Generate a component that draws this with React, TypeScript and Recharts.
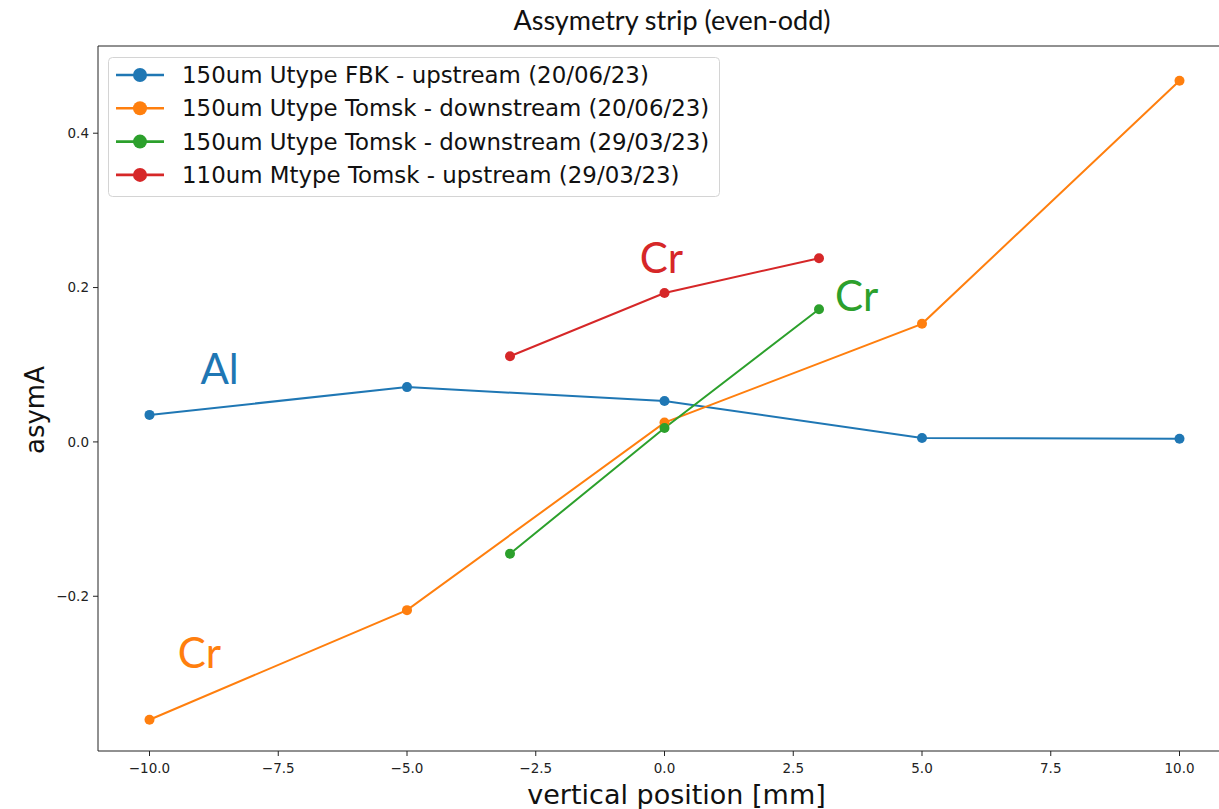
import { Label, Legend, Line, LineChart, ReferenceDot, ReferenceLine, XAxis, YAxis } from "recharts"

const fbkX = [-10, -5, 0, 5, 10]
const fbkY = [0.035, 0.071, 0.053, 0.005, 0.004]
const tomskJunX = [-10, -5, 0, 5, 10]
const tomskJunY = [-0.36, -0.218, 0.025, 0.153, 0.468]
const tomskMarX = [-3, 0, 3]
const tomskMarY = [-0.145, 0.018, 0.172]
const mtypeX = [-3, 0, 3]
const mtypeY = [0.111, 0.193, 0.238]

const seriesNames = [
  "150um Utype FBK - upstream (20/06/23)",
  "150um Utype Tomsk - downstream (20/06/23)",
  "150um Utype Tomsk - downstream (29/03/23)",
  "110um Mtype Tomsk - upstream (29/03/23)",
]
const colors = ["#1f77b4", "#ff7f0e", "#2ca02c", "#d62728"]

const xTicks = [-10, -7.5, -5, -2.5, 0, 2.5, 5, 7.5, 10]
const yTicks = [-0.2, 0, 0.2, 0.4]
const yDomain = [-0.4005, 0.513]

// coating labels written on the plot (series index picks the colour)
const noteText = ["Al", "Cr", "Cr", "Cr"]
const noteX = [-8.64, -9.03, 3.73, -0.06]
const noteY = [0.075, -0.293, 0.17, 0.219]
const noteSeries = [0, 1, 2, 3]

const toPoints = (xs: number[], ys: number[]) => xs.map((x, i) => ({ x, y: ys[i] }))
const series = [
  toPoints(fbkX, fbkY),
  toPoints(tomskJunX, tomskJunY),
  toPoints(tomskMarX, tomskMarY),
  toPoints(mtypeX, mtypeY),
]

const fmt = (v: number) => v.toFixed(1).replace("-", "\u2212")
const mpl = "'DejaVu Sans', sans-serif"
const spine = "#222"

function LegendBox() {
  return (
    <svg width={613} height={141} style={{ display: "block" }}>
      <rect x={0.5} y={0.5} width={611} height={139} rx={4} fill="#fff" fillOpacity={0.8} stroke="#d4d4d4" />
      {seriesNames.map((name, i) => {
        const cy = 18 + i * 33.3
        return (
          <g key={name}>
            <line x1={8} x2={56} y1={cy} y2={cy} stroke={colors[i]} strokeWidth={2.6} />
            <circle cx={32} cy={cy} r={7} fill={colors[i]} />
            <text x={74} y={cy + 8} fontFamily={mpl} fontSize={22.9} fill="#111">
              {name}
            </text>
          </g>
        )
      })}
    </svg>
  )
}

export default function App() {
  return (
    <div
      style={{
        position: "absolute",
        left: 0,
        top: 0,
        width: 1219,
        height: 809,
        overflow: "hidden",
        background: "#fff",
      }}
    >
      <div
        style={{
          position: "absolute",
          top: 4,
          left: 422,
          width: 500,
          textAlign: "center",
          fontFamily: "Lato, sans-serif",
          fontSize: 27,
          lineHeight: "32px",
          color: "#111",
          zIndex: 2,
        }}
      >
        Assymetry strip (even-odd)
      </div>
      <LineChart width={1240} height={809} margin={{ top: 46, right: 9, bottom: 28, left: 38 }}>
        <XAxis
          dataKey="x"
          type="number"
          domain={[-11, 11]}
          ticks={xTicks}
          allowDataOverflow
          tickFormatter={fmt}
          tickSize={5}
          tickMargin={7}
          height={30}
          stroke={spine}
          tick={{ fill: "#222", fontSize: 13.5, fontFamily: mpl }}
        >
          <Label
            content={({ viewBox }: any) => (
              <text
                x={viewBox.x + viewBox.width / 2 + 12}
                y={804}
                textAnchor="middle"
                fontFamily={mpl}
                fontSize={27}
                fill="#111"
              >
                vertical position [mm]
              </text>
            )}
          />
        </XAxis>
        <YAxis
          type="number"
          domain={yDomain}
          ticks={yTicks}
          allowDataOverflow
          tickFormatter={fmt}
          tickSize={5}
          tickMargin={4}
          width={60}
          stroke={spine}
          tick={{ fill: "#222", fontSize: 13.5, fontFamily: mpl }}
        >
          <Label
            content={() => (
              <text
                x={44}
                y={410}
                transform="rotate(-90 44 410)"
                textAnchor="middle"
                fontFamily={mpl}
                fontSize={26}
                fill="#111"
              >
                asymA
              </text>
            )}
          />
        </YAxis>
        <ReferenceLine y={yDomain[1]} stroke={spine} strokeWidth={1} ifOverflow="visible" />
        <Legend
          layout="vertical"
          align="center"
          verticalAlign="middle"
          wrapperStyle={{ left: 108, top: 57, width: 613, height: 141 }}
          content={() => <LegendBox />}
        />
        {series.map((pts, i) => (
          <Line
            key={seriesNames[i]}
            name={seriesNames[i]}
            data={pts}
            dataKey="y"
            type="linear"
            stroke={colors[i]}
            strokeWidth={2}
            dot={{ r: 5, fill: colors[i], stroke: colors[i], strokeWidth: 0 }}
            activeDot={false}
            isAnimationActive={false}
          />
        ))}
        {noteText.map((t, i) => (
          <ReferenceDot
            key={i}
            x={noteX[i]}
            y={noteY[i]}
            r={0}
            fill="none"
            stroke="none"
            label={({ viewBox }: any) => (
              <text
                x={viewBox.x + viewBox.width / 2}
                y={viewBox.y + viewBox.height / 2}
                textAnchor="middle"
                fontFamily="Lato, sans-serif"
                fontSize={42}
                fill={colors[noteSeries[i]]}
              >
                {t}
              </text>
            )}
          />
        ))}
      </LineChart>
    </div>
  )
}
